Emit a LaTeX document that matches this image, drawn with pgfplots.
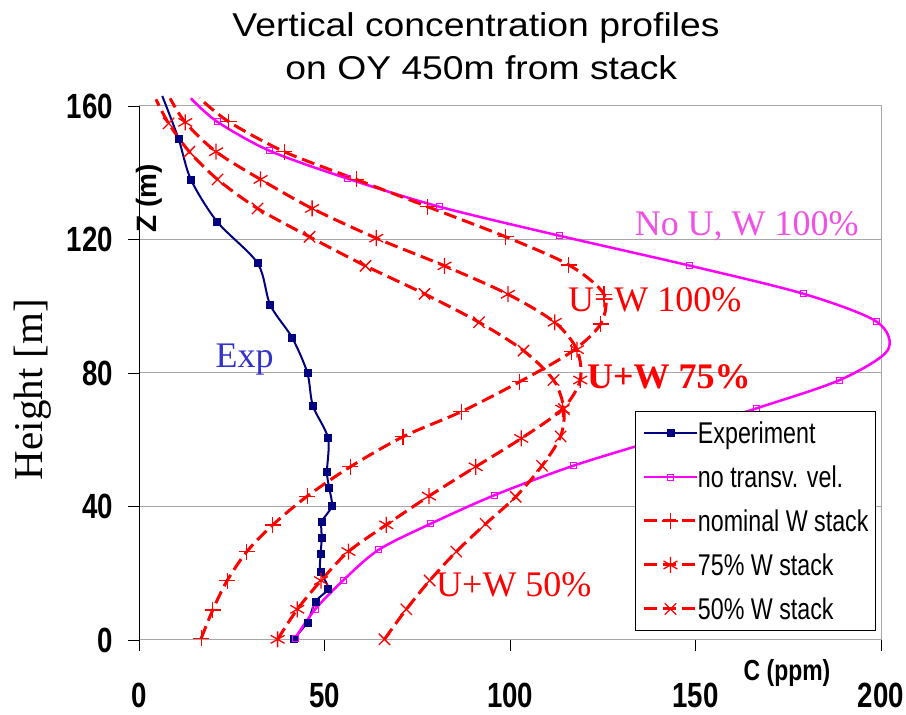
\documentclass[border=0pt]{standalone}
\usepackage{fontspec}
\setmainfont{Liberation Serif}
\setsansfont{Liberation Sans}
\usepackage{graphicx}
\usepackage{pgfplots}
\pgfplotsset{compat=1.18}

\definecolor{expblue}{RGB}{0,0,128}
\definecolor{labblue}{RGB}{51,51,204}
\definecolor{magline}{RGB}{255,0,255}
\definecolor{maglab}{RGB}{240,80,230}
\definecolor{redline}{RGB}{255,0,0}

\newcommand{\narrow}[1]{\scalebox{0.79}[1]{#1}}
\newcommand{\legnarrow}[1]{\scalebox{0.775}[1]{#1}}

% measured profile, height z [m] against concentration C [ppm]
\pgfplotstableread{
C z
41.7 0.5
45.3 5.3
47.5 11.5
50.9 15.5
48.8 20.5
48.9 25.8
49.2 30.5
49.2 35.4
51.9 40.1
51.2 45.6
50.6 50.3
50.9 60.5
46.8 70.2
45.3 80.1
41.2 90.6
35.3 100.4
31.9 112.9
21.0 125.3
13.9 138.0
10.6 150.1
6.2 163.0
}\expdata

\begin{document}
\begin{tikzpicture}
\useasboundingbox (-139.3pt,-75pt) rectangle (766.7pt,640pt);
\begin{axis}[
  scale only axis,
  width=741.7pt, height=534pt,
  xmin=0, xmax=200, ymin=0, ymax=160,
  xtick={0,50,...,200}, ytick={0,40,...,160},
  xtick pos=left, ytick pos=left,
  tick align=outside,
  major tick length=11pt,
  tick style={black, line width=0.8pt},
  axis line style={gray!70, line width=1pt},
  ymajorgrids,
  grid style={gray!70, line width=1pt},
  clip=false,
  /pgf/number format/assume math mode=true,
  ticklabel style={font=\sffamily\bfseries\fontsize{35}{35}\selectfont, inner sep=0pt},
  xticklabel={\narrow{\pgfmathprintnumber{\tick}}},
  yticklabel={\narrow{\pgfmathprintnumber{\tick}}},
  xticklabel style={anchor=north, yshift=-32pt},
  yticklabel style={anchor=east, xshift=-15pt},
  every axis plot/.append style={smooth},
  legend image code/.code={
    \draw[#1, mark indices={2}]
      plot coordinates {(0pt,0pt) (26pt,0pt) (52pt,0pt)};
  },
  legend style={
    at={(rel axis cs:0.9933,0.0169)}, anchor=south east,
    draw=black, line width=1pt, fill=white,
    font=\sffamily\fontsize{30}{30}\selectfont,
    nodes={inner sep=0pt, text height=24pt, text depth=2pt},
    row sep=18pt, inner xsep=7pt, inner ysep=8.5pt,
    /tikz/every even column/.append style={column sep=5pt},
  },
  legend cell align=left,
]

% experiment
\addplot[expblue, line width=2pt, mark=square*, mark size=3.5pt,
  mark options={solid, line width=0.5pt}, mark indices={1,...,20}]
  table[x=C, y=z] {\expdata};
\addlegendentry{\legnarrow{Experiment}}

% no transverse velocity
\addplot[magline, line width=2.5pt, mark=square, mark size=3pt,
  mark options={solid, line width=0.8pt},
  mark indices={1,2,3,4,5,6,7,8,9,10,12,13,14,15,16,17,18,19}]
  coordinates {
  (42.0,0.5) (47.5,9.3) (55.1,18.0) (64.5,27.0) (78.5,34.8) (95.8,43.4)
  (117.0,52.2) (141.5,60.6) (166.4,69.4) (188.9,77.9) (201.8,86.8)
  (198.8,95.4) (179.2,103.7) (148.3,112.2) (113.4,121.1) (81.0,129.8)
  (56.0,138.3) (35.1,146.6) (21.0,155.3) (13.9,162.3)
  };
\addlegendentry{\legnarrow{no transv. vel.}}

% nominal vertical velocity at the stack
\addplot[redline, line width=3pt, dash pattern=on 13pt off 6pt,
  mark=+, mark size=8pt, mark options={solid, line width=1.3pt},
  mark indices={1,...,19}]
  coordinates {
  (16.7,0.5) (19.8,9.0) (23.7,17.8) (29.0,26.5) (36.0,34.5) (45.3,43.1)
  (56.9,51.9) (71.1,60.9) (86.8,68.4) (102.6,77.4) (116.6,86.4)
  (124.4,94.7) (125.3,103.6) (115.8,112.4) (98.8,120.8) (77.8,129.8)
  (58.5,138.0) (39.1,146.3) (24.1,155.3) (16.2,162.4)
  };
\addlegendentry{\legnarrow{nominal W stack}}

% 75% vertical velocity
\addplot[redline, line width=3pt, dash pattern=on 13pt off 6pt,
  mark=asterisk, mark size=8pt, mark options={solid, line width=1.3pt},
  mark indices={1,...,19}]
  coordinates {
  (37.3,0.2) (42.6,9.2) (49.0,17.8) (56.4,26.5) (66.6,34.5) (78.1,43.1)
  (90.7,51.9) (103.0,60.4) (114.1,69.2) (118.9,77.9) (118.0,87.0)
  (112.0,95.2) (99.4,103.6) (82.3,112.1) (63.9,120.4) (46.6,129.3)
  (32.7,138.0) (20.7,146.3) (12.4,155.1) (8.3,162.3)
  };
\addlegendentry{\legnarrow{75\% W stack}}

% 50% vertical velocity
\addplot[redline, line width=3pt, dash pattern=on 13pt off 6pt,
  mark=x, mark size=8pt, mark options={solid, line width=1.3pt},
  mark indices={1,...,19}]
  coordinates {
  (66.1,0.2) (72.0,9.2) (78.3,17.8) (85.5,26.5) (93.4,34.8) (101.5,42.9)
  (108.6,52.2) (113.6,61.0) (114.5,69.2) (111.7,77.9) (103.6,86.7)
  (91.6,95.2) (76.9,103.7) (61.0,112.1) (45.9,120.8) (31.9,129.3)
  (21.1,138.0) (13.5,146.3) (7.9,154.8) (4.5,162.0)
  };
\addlegendentry{\legnarrow{50\% W stack}}

% left axis line drawn in black over the grey frame
\draw[black, line width=1pt] (axis cs:0,0) -- (axis cs:0,160);

% curve annotations
\node[anchor=base, inner sep=0pt, text=maglab, font=\fontsize{36}{36}\selectfont]
  at (axis cs:163.8,121.2) {No U, W 100\%};
\node[anchor=base, inner sep=0pt, text=redline, font=\fontsize{36}{36}\selectfont]
  at (axis cs:139.0,98.4) {U+W 100\%};
\node[anchor=base, inner sep=0pt, text=redline, font=\bfseries\fontsize{36}{36}\selectfont]
  at (axis cs:142.8,75.5) {U+W 75\%};
\node[anchor=base, inner sep=0pt, text=redline, font=\fontsize{36}{36}\selectfont]
  at (axis cs:101.0,13.0) {U+W 50\%};
\node[anchor=base, inner sep=0pt, text=labblue, font=\fontsize{36}{36}\selectfont]
  at (axis cs:28.4,81.5) {Exp};
\end{axis}

% titles and axis names
\node[anchor=base, inner sep=0pt, font=\sffamily\fontsize{33}{33}\selectfont]
  at (336.7pt,603pt) {\scalebox{1.13}[1]{Vertical concentration profiles}};
\node[anchor=base, inner sep=0pt, font=\sffamily\fontsize{33}{33}\selectfont]
  at (342pt,560pt) {\scalebox{1.13}[1]{on OY 450m from stack}};
\node[anchor=base, inner sep=0pt, rotate=90, font=\fontsize{41}{41}\selectfont]
  at (-96.3pt,250.5pt) {Height [m]};
\node[inner sep=0pt, rotate=90, font=\sffamily\bfseries\fontsize{28}{28}\selectfont]
  at (9.7pt,442pt) {Z (m)};
\node[inner sep=0pt, font=\sffamily\bfseries\fontsize{29}{29}\selectfont]
  at (647.7pt,-33pt) {\narrow{C (ppm)}};
\end{tikzpicture}
\end{document}
